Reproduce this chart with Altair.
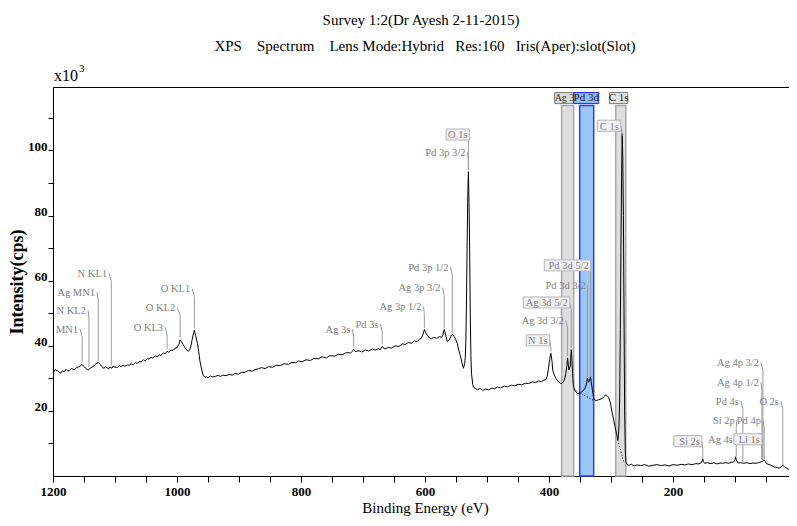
import altair as alt
import pandas as pd

FONT = "Liberation Serif"

# ---------------- spectrum (Binding energy eV, Intensity x10^3 cps) ----------------
be = [1200,1196,1192,1188,1185,1182,1179,1176,1173,1170,1166,1163,1160,1156,1153,1150,1148,1145,1143,1140,
      1137,1134,1132,1129,1127,1124,1122,1120,1118,1115,1113,1110,1108,1105,1103,1100,1097,1093,1090,1087,
      1084,1080,1077,1074,1071,1067,1064,1061,1058,1054,1051,1048,1045,1042,1039,1035,1032,1029,1026,1022,
      1019,1016,1013,1010,1006,1003,1000,997,995,992,990,987,985,982,980,978,976,974,972,970,
      967,965,963,960,958,955,953,950,946,942,938,934,930,926,921,916,911,906,901,896,
      890,885,879,874,869,864,858,852,846,840,833,827,820,815,809,804,798,792,785,779,
      772,766,759,753,746,740,733,727,720,717,715,712,707,702,696,691,685,680,675,672,
      669,665,659,654,648,642,636,632,627,622,617,613,609,606,604,602,601,599,596,593,
      590,586,581,577,573,571,569,566,564,561,559,557,556,553,551,548,546,543,541,539,
      538,536,535,534,533,532,531,530,529,528,527,526,525,523,522,518,515,511,507,502,
      497,492,488,483,478,472,467,461,455,450,444,438,433,427,422,417,412,408,405,403,
      401,399,397,395,394,391,389,385,381,378,376,374,373,371,370,369,368,366,365,364,
      363,362,361,360,357,354,352,349,347,344,342,340,339,338,337,336,334,333,332,330,
      328,326,323,320,316,313,311,309,306,304,301,299,296,294,291,289,288,287,286,285,
      284,283,282,281,280,279,278,277,276,274,271,267,263,258,252,246,239,232,226,219,
      213,206,200,193,187,181,175,169,163,159,155,153,152,151,149,145,139,134,129,124,
      120,115,110,106,102,100,99,98,95,91,86,81,76,71,66,62,58,55,53,51,
      49,45,42,39,36,32,29,26,24,23,21,19,16,13,11,8,6,4,2,0]
counts = [31.9,32.6,32.2,31.6,32.3,32.0,32.8,32.2,32.5,33.0,32.6,33.2,33.4,33.8,34.3,33.6,33.2,32.7,32.6,33.1,
          33.4,33.8,34.3,34.6,34.9,34.3,33.8,33.5,33.0,33.6,33.2,33.0,33.5,33.1,33.7,33.5,33.3,33.9,33.6,34.0,
          33.7,34.1,34.0,34.5,34.2,34.8,34.6,35.2,35.0,35.7,35.4,36.1,35.9,36.5,36.2,36.9,36.6,37.3,37.0,37.8,
          37.6,38.3,38.0,38.7,38.6,39.3,39.4,40.4,41.8,41.0,40.3,39.4,38.8,38.3,38.6,39.6,41.5,43.3,44.8,43.2,
          40.6,38.2,35.3,32.6,31.0,30.3,30.5,30.2,30.7,30.4,30.6,30.9,30.6,31.0,30.8,31.2,31.0,31.5,31.3,31.8,
          31.9,32.4,32.2,32.7,32.9,33.3,33.0,33.6,33.4,34.0,33.9,34.5,34.3,34.9,34.8,35.3,35.1,35.7,35.5,36.1,
          36.0,36.6,36.3,37.0,36.8,37.4,37.3,37.9,37.8,38.3,38.9,38.2,38.5,38.1,38.7,38.4,39.0,38.7,39.1,38.8,
          39.8,39.0,39.5,39.3,40.0,39.8,40.6,40.4,41.0,40.8,41.5,41.3,42.0,42.3,43.2,44.3,45.0,44.0,43.2,42.4,
          42.1,42.6,42.3,42.8,42.6,43.4,45.0,42.8,41.3,41.8,42.5,43.3,43.5,42.9,42.2,40.8,39.0,37.0,35.3,33.8,
          33.1,34.5,36.5,42.0,55.0,72.0,86.0,93.5,84.0,70.0,50.0,37.0,31.5,28.2,27.3,26.8,26.5,26.9,26.3,26.7,
          26.5,27.0,26.8,27.3,27.1,27.6,27.4,27.9,27.7,28.2,28.0,28.5,28.4,28.9,28.7,29.2,29.0,29.5,29.6,30.5,
          32.8,35.8,37.7,35.0,32.5,30.8,30.0,29.0,28.4,28.6,29.2,30.4,31.5,34.0,36.3,34.4,32.6,33.5,36.0,38.8,
          35.5,31.5,28.5,27.2,25.9,25.4,25.3,25.6,25.9,26.4,26.9,28.0,29.0,30.1,29.3,28.8,29.8,30.5,29.0,26.5,
          24.0,23.3,23.2,23.4,23.7,24.0,24.4,24.9,24.6,24.2,22.5,20.3,17.5,15.6,13.0,11.0,12.5,16.0,24.0,45.0,
          69.0,90.0,105.2,98.0,80.0,50.0,20.0,8.0,4.4,3.5,3.3,3.6,3.1,3.4,3.2,3.5,3.0,3.3,3.5,3.2,
          3.4,3.1,3.5,3.3,3.6,3.4,3.7,3.5,3.8,3.7,4.0,4.6,5.3,4.5,3.9,4.1,3.8,4.1,3.7,4.0,
          3.9,4.1,3.9,4.2,4.3,5.0,5.9,4.9,4.0,4.1,3.9,4.1,3.8,4.0,3.9,4.1,4.3,4.6,5.0,4.4,
          3.8,3.5,3.3,3.0,2.8,2.6,2.4,2.8,3.1,3.4,3.0,2.6,2.4,2.0,2.2,2.6,2.9,2.2,1.6,3.0]

# dotted background (two short pieces)
bg_seg = ["a", "a", "b", "b"]
bg_be = [360, 329, 289, 279]
bg_i = [26.6, 23.3, 11.0, 4.0]

# ---------------- peak labels ----------------
lab_name = ["MN1", "N KL2", "Ag MN1", "N KL1", "O KL3", "O KL2", "O KL1", "Ag 3s", "Pd 3s",
            "Ag 3p 1/2", "Ag 3p 3/2", "Pd 3p 1/2", "Pd 3p 3/2", "O 1s", "N 1s", "Ag 3d 3/2",
            "Ag 3d 5/2", "Pd 3d 3/2", "Pd 3d 5/2", "C 1s", "Ag 4p 3/2", "Ag 4p 1/2", "Pd 4s",
            "O 2s", "Si 2p", "Pd 4p", "Si 2s", "Ag 4s", "Li 1s"]
lab_be = [1159.6, 1146.7, 1132.2, 1112.8, 1022.4, 1003.0, 978.7, 720.4, 675.1,
          605.7, 575.0, 562.1, 534.6, 531.4, 402.2, 376.4,
          369.9, 340.8, 336.0, 287.5, 61.4, 61.4, 93.7,
          29.1, 100.2, 58.2, 156.7, 103.4, 59.8]
lab_i = [43.9, 49.7, 55.2, 61.0, 44.5, 50.6, 56.4, 43.9, 45.4,
         50.9, 56.7, 62.9, 98.2, 103.7, 40.5, 46.6,
         52.1, 57.4, 63.5, 106.4, 33.7, 27.6, 21.8,
         21.8, 16.0, 16.0, 9.5, 10.1, 10.1]
peak_be = [1153, 1142, 1127, 1106, 1016, 995, 972, 715, 669,
           601, 569, 556, 530, 530, 397, 370,
           364, 338, 333, 282, 55, 56.6, 87.3,
           23, 98, 53, 152, None, 56.6]
peak_i = [35.0, 33.5, 35.5, 34.0, 39.0, 42.5, 45.5, 39.5, 40.4,
          45.5, 45.5, 44.0, 94.0, 94.0, 38.2, 36.8,
          39.3, 30.5, 30.8, 104.5, 4.8, 5.0, 4.3,
          3.3, 5.9, 5.2, 5.5, None, 5.0]
boxed = [0, 0, 0, 0, 0, 0, 0, 0, 0,
         0, 0, 0, 0, 1, 1, 0,
         1, 0, 1, 1, 0, 0, 0,
         0, 0, 0, 1, 0, 1]

# ---------------- region windows ----------------
reg_name = ["Ag 3d", "Pd 3d", "C 1s"]
reg_lo = [379.6, 350.5, 292.4]
reg_hi = [360.2, 327.9, 276.2]
reg_top = [113.8, 113.8, 113.8]
reg_fill = ["#dedede", "#9cc6f4", "#dedede"]
reg_stroke = ["#a9a9a9", "#2f3cff", "#a9a9a9"]
tag_lo = [390.9, 360.2, 302.1]
tag_hi = [360.2, 319.8, 273.0]
tag_fill = ["#dcdcdc", "#8cbcf5", "#e6e6e6"]
tag_stroke = ["#7a7a7a", "#2020ff", "#7a7a7a"]
tag_y1 = 114.4
tag_y2 = 117.8

W, H = 744, 389
XMAX, XMIN = 1200, 0
YMIN, YMAX = 0, 119.5
be_per_px = (XMAX - XMIN) / W

spec = pd.DataFrame({"be": be, "i": counts})
bg = pd.DataFrame({"seg": bg_seg, "be": bg_be, "i": bg_i})
labels = pd.DataFrame({"name": lab_name, "be": lab_be, "i": lab_i})

lead_rows = []
for n, tb, ti, pb, pi in zip(lab_name, lab_be, lab_i, peak_be, peak_i):
    if pb is None:
        continue
    lead_rows.append({"x": tb - 2 * be_per_px, "y": ti + 1.2, "x2": pb, "y2": ti - 1.2})
    lead_rows.append({"x": pb, "y": ti - 1.2, "x2": pb, "y2": pi})
leaders = pd.DataFrame(lead_rows)

box_rows = []
for n, tb, ti, b in zip(lab_name, lab_be, lab_i, boxed):
    if b:
        wpx = len(n) * 4.6 + 3
        box_rows.append({"x": tb - 2 * be_per_px, "x2": tb + wpx * be_per_px,
                         "y": ti - 0.5, "y2": ti + 2.9})
boxes = pd.DataFrame(box_rows)

regions = pd.DataFrame({"name": reg_name, "x": reg_lo, "x2": reg_hi, "y": [0] * 3,
                        "y2": reg_top, "fill": reg_fill, "stroke": reg_stroke})
tags = pd.DataFrame({"name": reg_name, "x": tag_lo, "x2": tag_hi, "y": [tag_y1] * 3,
                     "y2": [tag_y2] * 3, "fill": tag_fill, "stroke": tag_stroke,
                     "mid": [(a + b) / 2 for a, b in zip(tag_lo, tag_hi)],
                     "ty": [(tag_y1 + tag_y2) / 2] * 3})

xs = alt.Scale(domain=[XMAX, XMIN], nice=False, zero=False)
ys = alt.Scale(domain=[YMIN, YMAX], nice=False, zero=False)

xaxis = alt.Axis(title="Binding Energy (eV)", values=list(range(0, 1201, 50)),
                 labelExpr="datum.value % 200 == 0 ? datum.value : ''",
                 tickSize=6, tickColor="black", domainColor="black", grid=False,
                 labelFont=FONT, labelFontSize=13, labelFontWeight="bold", labelColor="black",
                 labelPadding=3, labelOverlap=False, labelFlush=False,
                 titleFont=FONT, titleFontSize=15, titleFontWeight="normal", titleColor="black",
                 titlePadding=2)
yaxis = alt.Axis(title="Intensity(cps)", values=list(range(10, 111, 10)),
                 labelExpr="datum.value % 20 == 0 ? datum.value : ''",
                 tickSize=5, tickColor="black", domainColor="black", grid=False,
                 labelFont=FONT, labelFontSize=13, labelFontWeight="bold", labelColor="black",
                 labelBaseline="alphabetic", labelPadding=1, labelOverlap=False, labelFlush=False,
                 titleFont=FONT, titleFontSize=18, titleFontWeight="bold", titleColor="black",
                 titlePadding=1)


def X(f):
    return alt.X(f, scale=xs, axis=xaxis)


def Y(f):
    return alt.Y(f, scale=ys, axis=yaxis)


layers = []

# region windows
layers.append(alt.Chart(regions).mark_rect(strokeWidth=1.5).encode(
    x=X("x:Q"), x2="x2:Q", y=Y("y:Q"), y2="y2:Q",
    fill=alt.Fill("fill:N", scale=None), stroke=alt.Stroke("stroke:N", scale=None)))

# region tags, drawn in order so the Pd tag covers the end of the Ag tag's name
for nm in reg_name:
    sub = tags[tags["name"] == nm]
    layers.append(alt.Chart(sub).mark_rect(strokeWidth=1).encode(
        x=X("x:Q"), x2="x2:Q", y=Y("y:Q"), y2="y2:Q",
        fill=alt.Fill("fill:N", scale=None), stroke=alt.Stroke("stroke:N", scale=None)))
    if nm == "Ag 3d":
        layers.append(alt.Chart(sub).mark_text(align="left", baseline="middle", font=FONT,
                                               fontSize=10, color="#333333", dx=0).encode(
            x=X("x:Q"), y=Y("ty:Q"), text="name:N"))
    else:
        layers.append(alt.Chart(sub).mark_text(align="center", baseline="middle", font=FONT,
                                               fontSize=11, color="#222222").encode(
            x=X("mid:Q"), y=Y("ty:Q"), text="name:N"))

# spectrum
layers.append(alt.Chart(spec).mark_line(color="black", strokeWidth=1, clip=True).encode(
    x=X("be:Q"), y=Y("i:Q")))

# background (dotted)
layers.append(alt.Chart(bg).mark_line(color="black", strokeWidth=1, strokeDash=[1, 2]).encode(
    x=X("be:Q"), y=Y("i:Q"), detail="seg:N"))

# leaders
layers.append(alt.Chart(leaders).mark_rule(color="#9a9a9a", strokeWidth=1).encode(
    x=X("x:Q"), y=Y("y:Q"), x2="x2:Q", y2="y2:Q"))

# label boxes
layers.append(alt.Chart(boxes).mark_rect(fill="#f2f2f2", stroke="#b5b5b5", strokeWidth=1).encode(
    x=X("x:Q"), x2="x2:Q", y=Y("y:Q"), y2="y2:Q"))

# label texts
layers.append(alt.Chart(labels).mark_text(align="right", baseline="alphabetic", font=FONT,
                                          fontSize=10.5, color="#808080").encode(
    x=X("be:Q"), y=Y("i:Q"), text="name:N"))

# titles and multiplier
one = pd.DataFrame({"t": ["Survey 1:2(Dr Ayesh 2-11-2015)"]})
two = pd.DataFrame({"t": ["XPS\u00a0\u00a0\u00a0\u00a0Spectrum\u00a0\u00a0\u00a0\u00a0Lens Mode:Hybrid\u00a0\u00a0\u00a0Res:160\u00a0\u00a0\u00a0Iris(Aper):slot(Slot)"]})
mul = pd.DataFrame({"t": ["x10"]})
sup = pd.DataFrame({"t": ["3"]})
layers.append(alt.Chart(one).mark_text(align="center", baseline="middle", font=FONT, fontSize=15,
                                       color="black").encode(
    x=alt.value(368), y=alt.value(-67), text="t:N"))
layers.append(alt.Chart(two).mark_text(align="center", baseline="middle", font=FONT, fontSize=15,
                                       color="black").encode(
    x=alt.value(372), y=alt.value(-41), text="t:N"))
layers.append(alt.Chart(mul).mark_text(align="left", baseline="alphabetic", font=FONT, fontSize=16,
                                       color="black").encode(
    x=alt.value(1), y=alt.value(-6), text="t:N"))
layers.append(alt.Chart(sup).mark_text(align="left", baseline="alphabetic", font=FONT, fontSize=11,
                                       color="black").encode(
    x=alt.value(26), y=alt.value(-15), text="t:N"))

chart = alt.layer(*layers).properties(
    width=W, height=H,
    padding={"left": 45, "top": 79, "right": -8, "bottom": 42},
    autosize=alt.AutoSizeParams(type="none"),
    background="white",
).configure_view(stroke="black", strokeWidth=1)

chart.save("out.html", embed_options={"renderer": "svg", "actions": False})
